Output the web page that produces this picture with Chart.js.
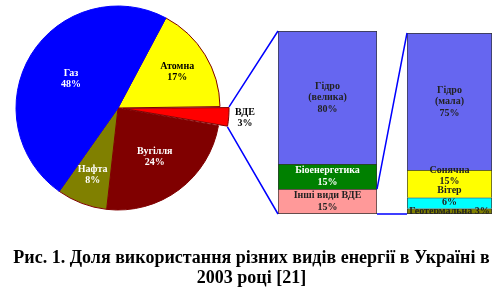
<!DOCTYPE html>
<html>
<head>
<meta charset="utf-8">
<script src="https://cdn.jsdelivr.net/npm/chart.js@4.4.1/dist/chart.umd.min.js"></script>
<style>
	html, body { margin: 0; padding: 0; background: #fff; }
	#wrap { position: relative; width: 503px; height: 287px; overflow: hidden; }
	canvas { position: absolute; }
	#pie { left: 0; top: 0; }
	#vde { left: 278px; top: 31px; }
	#other { left: 407px; top: 33px; }
	#links { left: 0; top: 0; pointer-events: none; }
	#caption {
		position: absolute; left: 0; top: 247px; width: 503px;
		text-align: center; font: bold 18px "Liberation Serif", "Times New Roman", serif;
		line-height: 20px; color: #000;
	}
</style>
</head>
<body>
<div id="wrap">
	<canvas id="pie" width="503" height="287"></canvas>
	<canvas id="vde" width="99" height="183"></canvas>
	<canvas id="other" width="85" height="181"></canvas>
	<canvas id="links" width="503" height="287"></canvas>
	<div id="caption">Рис. 1. Доля використання різних видів енергії в Україні в<br>2003 році [21]</div>
</div>
<script>
//  Energy mix, clockwise from the nuclear slice
const pieLabels = [`Атомна`, `ВДЕ`, `Вугілля`, `Нафта`, `Газ`]
const pieValues = [17, 3, 24, 8, 48]
//  Breakdown of renewables (ВДЕ)
const vdeLabels = [`Гідро\n(велика)`, `Біоенергетика`, `Інші види ВДЕ`]
const vdeValues = [80, 15, 15]
//  Breakdown of "other renewables"
const otherLabels = [`Гідро\n(мала)`, `Сонячна`, `Вітер`, `Геотермальна`]
const otherValues = [75, 15, 6, 3]

const FONT = `"Liberation Serif", "Times New Roman", serif`
const LINE = 11.5

//  Styles
const pieColors = [`#ffff00`, `#ff0000`, `#800000`, `#808000`, `#0000ff`]
const pieBorders = [`#800000`, `#800000`, `#800000`, `#800000`, `#0000ff`]
const pieTextColors = [`#000`, `#000`, `#fff`, `#fff`, `#fff`]
const pieLabelRadius = [0.68, 1.2, 0.6, 0.7, 0.54]
const vdeColors = [`#6666f0`, `#008000`, `#ff9999`]
const vdeTextColors = [`#222`, `#fff`, `#222`]
const otherColors = [`#6666f0`, `#ffff00`, `#00ffff`, `#808000`]
const otherTextColors = [`#222`, `#222`, `#222`, `#222`]

/**
 * Writes name + percentage on every slice.
 */
const pieLabelPlugin = {
	id: `pieLabels`,
	afterDatasetsDraw(chart) {
		const { ctx } = chart
		ctx.save()
		ctx.font = `bold 10px ${FONT}`
		ctx.textAlign = `center`
		ctx.textBaseline = `middle`
		chart.getDatasetMeta(0).data.forEach((arc, i) => {
			const { x, y, startAngle, endAngle, outerRadius } = arc.getProps([`x`, `y`, `startAngle`, `endAngle`, `outerRadius`], true)
			const mid = (startAngle + endAngle) / 2
			const r = outerRadius * pieLabelRadius[i] + (arc.options.offset || 0) / 4
			const cx = x + Math.cos(mid) * r
			const cy = y + Math.sin(mid) * r
			const lines = [pieLabels[i], `${pieValues[i]}%`]
			ctx.fillStyle = pieTextColors[i]
			lines.forEach((line, n) => ctx.fillText(line, cx, cy + (n - (lines.length - 1) / 2) * 11))
		})
		ctx.restore()
	}
}

/**
 * Writes name + percentage in the middle of every stacked segment.
 * Goes bottom-up and nudges a block upwards when it would run into the one below.
 */
const stackLabelPlugin = {
	id: `stackLabels`,
	afterDatasetsDraw(chart, args, opts) {
		const { ctx } = chart
		const sets = chart.data.datasets
		let ceiling = Infinity
		ctx.save()
		ctx.font = `bold 10px ${FONT}`
		ctx.textAlign = `center`
		ctx.textBaseline = `middle`
		for (let i = sets.length - 1; i >= 0; i--) {
			const ds = sets[i]
			const { x, y, base } = chart.getDatasetMeta(i).data[0].getProps([`x`, `y`, `base`], true)
			const lines = opts.inline.includes(i)
				? [`${ds.label} ${ds.data[0]}%`]
				: [...ds.label.split(`\n`), `${ds.data[0]}%`]
			//  glyphs are ~9px tall, so a block is its line gaps plus one glyph
			const half = (lines.length - 1) * LINE / 2 + 4.5
			let cy = (y + base) / 2
			if (cy + half > ceiling) cy = ceiling - half
			ceiling = cy - half
			ctx.fillStyle = opts.colors[i]
			lines.forEach((line, n) => ctx.fillText(line, x, cy + (n - (lines.length - 1) / 2) * LINE))
		}
		ctx.restore()
	}
}

const pie = new Chart(document.getElementById(`pie`), {
	type: `pie`,
	data: {
		labels: pieLabels,
		datasets: [{
			data: pieValues,
			backgroundColor: pieColors,
			borderColor: pieBorders,
			borderWidth: 1,
			offset: [0, 20, 0, 0, 0]
		}]
	},
	options: {
		responsive: false,
		animation: false,
		rotation: 28,
		radius: 102,
		layout: { padding: { left: 0, top: 0, right: 267, bottom: 71 } },
		plugins: { legend: { display: false }, tooltip: { enabled: false } }
	},
	plugins: [pieLabelPlugin]
})

function stackedBar(id, labels, values, colors, textColors, inline) {
	const last = values.length - 1
	return new Chart(document.getElementById(id), {
		type: `bar`,
		data: {
			labels: [``],
			datasets: values.map((v, i) => ({
				label: labels[i],
				data: [v],
				backgroundColor: colors[i],
				borderColor: `#333`,
				borderWidth: i === last ? 1 : { top: 1, left: 1, right: 1, bottom: 0 },
				borderSkipped: false,
				barPercentage: 1,
				categoryPercentage: 1
			}))
		},
		options: {
			responsive: false,
			animation: false,
			layout: { padding: 0 },
			plugins: {
				legend: { display: false },
				tooltip: { enabled: false },
				stackLabels: { colors: textColors, inline }
			},
			scales: {
				x: { display: false, stacked: true },
				y: { display: false, stacked: true, reverse: true, min: 0, max: values.reduce((a, b) => a + b, 0) }
			}
		},
		plugins: [stackLabelPlugin]
	})
}

const vde = stackedBar(`vde`, vdeLabels, vdeValues, vdeColors, vdeTextColors, [])
const other = stackedBar(`other`, otherLabels, otherValues, otherColors, otherTextColors, [3])

//  Edges of a bar segment in page coordinates
function segmentBox(chart, index) {
	const canvas = chart.canvas
	const { x, y, base, width } = chart.getDatasetMeta(index).data[0].getProps([`x`, `y`, `base`, `width`], true)
	return {
		left: canvas.offsetLeft + x - width / 2,
		right: canvas.offsetLeft + x + width / 2,
		top: canvas.offsetTop + Math.min(y, base),
		bottom: canvas.offsetTop + Math.max(y, base)
	}
}

//  Blue leader lines: ВДЕ slice -> first bar -> second bar
function drawLinks() {
	const ctx = document.getElementById(`links`).getContext(`2d`)
	const arc = pie.getDatasetMeta(0).data[1]
	const { x, y, startAngle, endAngle, outerRadius, circumference } = arc.getProps([`x`, `y`, `startAngle`, `endAngle`, `outerRadius`, `circumference`], true)
	const shift = (arc.options.offset || 0) / 4
	const mid = (startAngle + endAngle) / 2
	const cx = x + Math.cos(mid) * shift
	const cy = y + Math.sin(mid) * shift
	const r = outerRadius + shift * (1 - Math.sin(Math.min(Math.PI, circumference)))
	const vdeTop = segmentBox(vde, 0)
	const vdeBottom = segmentBox(vde, vdeValues.length - 1)
	const otherTop = segmentBox(other, 0)
	const otherBottom = segmentBox(other, otherValues.length - 1)

	ctx.strokeStyle = `#0000ff`
	ctx.lineWidth = 1.5
	ctx.beginPath()
	ctx.moveTo(cx + Math.cos(startAngle) * r, cy + Math.sin(startAngle) * r)
	ctx.lineTo(vdeTop.left, vdeTop.top)
	ctx.moveTo(cx + Math.cos(endAngle) * r, cy + Math.sin(endAngle) * r)
	ctx.lineTo(vdeBottom.left, vdeBottom.bottom)
	ctx.moveTo(vdeBottom.right, vdeBottom.top)
	ctx.lineTo(otherTop.left, otherTop.top)
	ctx.moveTo(vdeBottom.right, vdeBottom.bottom)
	ctx.lineTo(otherBottom.left, otherBottom.bottom)
	ctx.stroke()
}

drawLinks()
</script>
</body>
</html>
